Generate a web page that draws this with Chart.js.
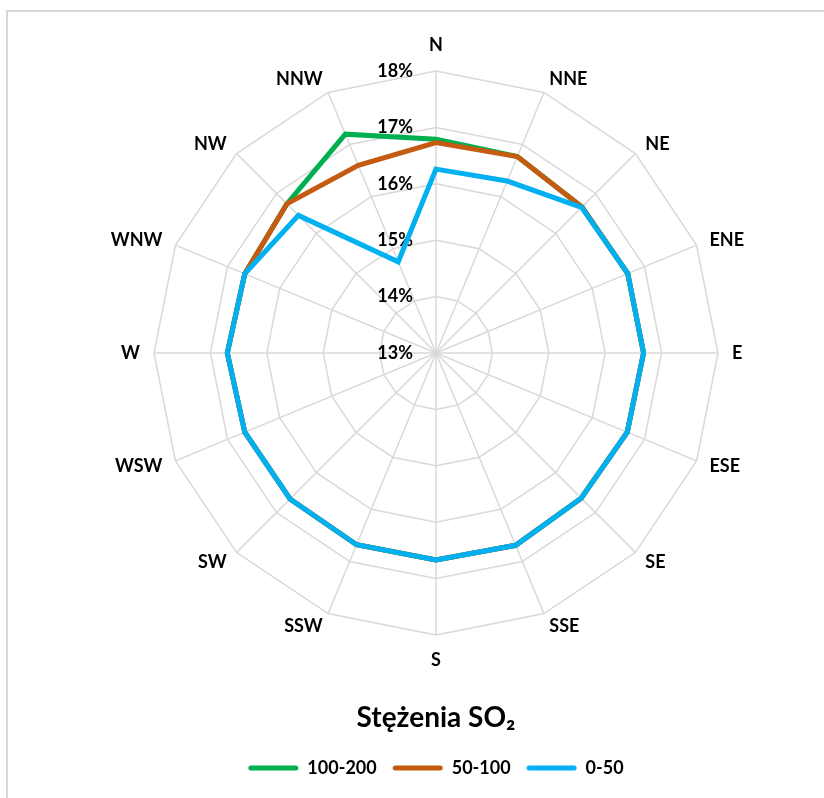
<!DOCTYPE html>
<html>
<head>
<meta charset="utf-8">
<script src="https://cdn.jsdelivr.net/npm/chart.js@4.4.0/dist/chart.umd.min.js"></script>
<style>
  body { margin: 0; background: #fff; overflow: hidden; }
  #frame { position: absolute; left: 6px; top: 10px; width: 856px; height: 800px; border: 2px solid #d9d9d9; }
</style>
</head>
<body>
<div id="frame"><canvas id="rose" width="856" height="800"></canvas></div>
<script>
const directions = ['N', 'NNE', 'NE', 'ENE', 'E', 'ESE', 'SE', 'SSE', 'S', 'SSW', 'SW', 'WSW', 'W', 'WNW', 'NW', 'NNW'];

// share of time per wind direction, %
const high = [16.79, 16.77, 16.66, 16.68, 16.68, 16.67, 16.64, 16.69, 16.67, 16.68, 16.66, 16.67, 16.70, 16.67, 16.74, 17.20];   // 100-200
const mid = [16.73, 16.77, 16.66, 16.68, 16.68, 16.67, 16.64, 16.69, 16.67, 16.68, 16.66, 16.67, 16.70, 16.67, 16.74, 16.60];    // 50-100
const low = [16.26, 16.30, 16.65, 16.68, 16.68, 16.67, 16.64, 16.69, 16.67, 16.68, 16.66, 16.67, 16.70, 16.67, 16.45, 14.75];    // 0-50

const seriesNames = ['100-200', '50-100', '0-50'];
const seriesColors = ['#00b050', '#c55a11', '#00b0f0'];

const tickValues = [13, 14, 15, 16, 17, 18];
const tickLabels = ['13%', '14%', '15%', '16%', '17%', '18%'];

const FONT = 'Lato, "Open Sans", sans-serif';
Chart.defaults.color = '#000';

// tick labels left of the N axis, direction labels centred like excel does it
const labelPlugin = {
  id: 'roseLabels',
  beforeDatasetsDraw(chart) {
    const scale = chart.scales.r;
    const ctx = chart.ctx;
    ctx.save();
    ctx.font = 'bold 18px ' + FONT;
    ctx.fillStyle = '#000';
    ctx.textAlign = 'right';
    ctx.textBaseline = 'middle';
    tickValues.forEach((v, i) => {
      const y = scale.yCenter - scale.getDistanceFromCenterForValue(v);
      ctx.fillText(tickLabels[i], scale.xCenter - 23, y);
    });

    directions.forEach((name, i) => {
      const p = scale.getPointPosition(i, scale.drawingArea + 14);
      const dx = p.x - scale.xCenter;
      const dy = p.y - scale.yCenter;
      let y = p.y;
      if (Math.abs(dx) < 1) {
        ctx.textAlign = 'center';
        y += dy < 0 ? -12 : 11;
      } else {
        ctx.textAlign = dx > 0 ? 'left' : 'right';
      }
      ctx.fillText(name, p.x, y);
    });
    ctx.restore();
  }
};

const allData = [high, mid, low];

new Chart(document.getElementById('rose'), {
  type: 'radar',
  data: {
    labels: directions,
    datasets: allData.map((d, i) => ({
      label: seriesNames[i],
      data: d,
      borderColor: seriesColors[i],
      backgroundColor: seriesColors[i],
      borderWidth: 5,
      pointRadius: 0,
      fill: false,
      order: 3 - i
    }))
  },
  options: {
    responsive: false,
    animation: false,
    layout: { padding: { top: 59, bottom: 25, left: 0, right: 0 } },
    scales: {
      r: {
        min: 13,
        max: 18,
        ticks: { stepSize: 1, display: false },
        grid: { color: '#d9d9d9', lineWidth: 1.5 },
        angleLines: { color: '#d9d9d9', lineWidth: 1.5 },
        pointLabels: { display: false }
      }
    },
    plugins: {
      tooltip: { enabled: false },
      title: {
        display: true,
        position: 'bottom',
        weight: 500,
        text: 'Stężenia SO₂',
        color: '#000',
        font: { family: FONT, size: 28, weight: 'bold' },
        padding: { top: 66, bottom: 8 }
      },
      legend: {
        position: 'bottom',
        labels: {
          padding: 16,
          boxWidth: 50,
          boxHeight: 5,
          useBorderRadius: true,
          borderRadius: 2.5,
          color: '#000',
          font: { family: FONT, size: 18, weight: 'bold' },
          generateLabels(chart) {
            return chart.data.datasets.map((ds, i) => ({
              text: ds.label,
              fillStyle: ds.borderColor,
              strokeStyle: ds.borderColor,
              lineWidth: 0,
              borderRadius: 2.5,
              fontColor: '#000',
              hidden: false,
              datasetIndex: i
            }));
          }
        }
      }
    }
  },
  plugins: [labelPlugin]
});
</script>
</body>
</html>
